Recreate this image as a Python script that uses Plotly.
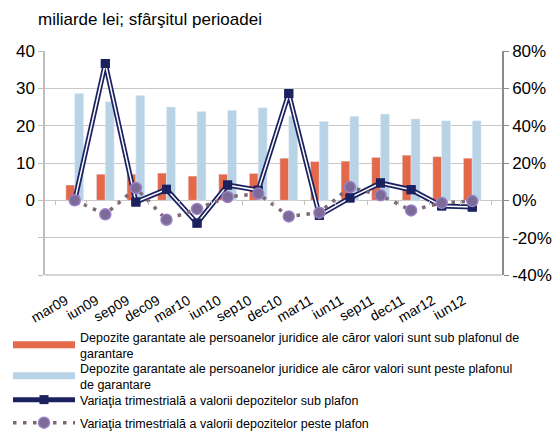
import plotly.graph_objects as go

categories = ["mar09", "iun09", "sep09", "dec09", "mar10", "iun10", "sep10",
              "dec10", "mar11", "iun11", "sep11", "dec11", "mar12", "iun12"]
sub_plafon = [4.1, 7.0, 7.0, 7.3, 6.5, 7.0, 7.2, 11.3, 10.4, 10.5, 11.5, 12.1, 11.7, 11.3]
peste_plafon = [28.6, 26.4, 28.1, 25.0, 23.8, 24.1, 24.8, 22.6, 21.1, 22.5, 23.1, 21.8, 21.3, 21.3]
var_sub = [0.0, 73.3, -0.9, 5.9, -12.2, 8.2, 5.4, 57.2, -8.0, 1.3, 9.3, 5.7, -3.0, -3.6]
var_peste = [0.0, -7.5, 6.6, -10.4, -4.6, 1.8, 3.6, -8.6, -6.6, 7.1, 2.7, -5.4, -1.4, -0.4]

left_ticks = [-20, -10, 0, 10, 20, 30, 40]
left_ticktext = ["", "", "0", "10", "20", "30", "40"]
right_ticks = [-40, -20, 0, 20, 40, 60, 80]
right_ticktext = ["-40%", "-20%", "0%", "20%", "40%", "60%", "80%"]

names = [
    "Depozite garantate ale persoanelor juridice ale căror valori sunt sub plafonul de<br>garantare",
    "Depozite garantate ale persoanelor juridice ale căror valori sunt peste plafonul<br>de garantare",
    "Variaţia trimestrială a valorii depozitelor sub plafon",
    "Variaţia trimestrială a valorii depozitelor peste plafon",
]

ORANGE = "#E4694A"
BLUE = "#B7D3E5"
NAVY = "#1C2160"
PURPLE = "#7C6A97"
DOTC = "#7E6873"

# the page body adds an 8px margin; the figure is sized/positioned to compensate
W, H = 552, 424
L, T, R, B = 37, 43, 58, 157
PLOT_H = H - T - B

fig = go.Figure()
fig.add_trace(go.Bar(x=categories, y=sub_plafon, name=names[0], marker_color=ORANGE,
                     yaxis="y", showlegend=False))
fig.add_trace(go.Bar(x=categories, y=peste_plafon, name=names[1], marker_color=BLUE,
                     yaxis="y", showlegend=False))
# invisible trace that carries the tick marks on the zero line
fig.add_trace(go.Scatter(x=categories, y=sub_plafon, xaxis="x2", yaxis="y",
                         mode="markers", marker=dict(size=1, opacity=0),
                         showlegend=False, hoverinfo="skip"))
# legend-only entries drawn as wide flat bars
fig.add_trace(go.Scatter(x=[None], y=[None], name=names[0], mode="lines",
                         line=dict(color=ORANGE, width=7), legend="legend"))
fig.add_trace(go.Scatter(x=[None], y=[None], name=names[1], mode="lines",
                         line=dict(color=BLUE, width=7), legend="legend2"))
# double line: navy thick + white thin center
fig.add_trace(go.Scatter(x=categories, y=var_sub, name=names[2], yaxis="y2",
                         mode="lines+markers", line=dict(color=NAVY, width=5),
                         marker=dict(symbol="square", size=9, color=NAVY),
                         legend="legend3"))
fig.add_trace(go.Scatter(x=categories, y=var_sub, yaxis="y2", showlegend=False,
                         mode="lines", line=dict(color="white", width=1.5), hoverinfo="skip"))
fig.add_trace(go.Scatter(x=categories, y=var_sub, yaxis="y2", showlegend=False,
                         mode="markers", marker=dict(symbol="square", size=9, color=NAVY),
                         hoverinfo="skip"))
fig.add_trace(go.Scatter(x=categories, y=var_peste, name=names[3], yaxis="y2",
                         mode="lines+markers",
                         line=dict(color=DOTC, width=3.5, dash="3.5px,6.5px"),
                         marker=dict(symbol="circle", size=11, color=PURPLE,
                                     line=dict(color="#9A80C6", width=1.5)),
                         legend="legend4"))

def px_to_y(p_screen):
    # screen pixel -> paper fraction (screen = figure + 8)
    return (H - B - (p_screen - 8)) / PLOT_H

plot_w = W - L - R
leg_common = dict(x=-(L - 0) / plot_w, xanchor="left", yanchor="middle", orientation="v",
                  font=dict(size=12.5), itemwidth=62, bgcolor="rgba(0,0,0,0)")

fig.update_layout(
    width=W, height=H,
    margin=dict(l=L, r=R, t=T, b=B, autoexpand=False),
    plot_bgcolor="white", paper_bgcolor="white",
    font=dict(family="Liberation Sans, Arial, sans-serif", color="#000000"),
    barmode="group", bargap=0.42, bargroupgap=0,
    title=dict(text="miliarde lei; sfârşitul perioadei", xref="container", x=30/W,
               xanchor="left", yref="container", y=1 - 5/H, yanchor="top",
               font=dict(size=17)),
    xaxis=dict(type="category", tickangle=-30, tickfont=dict(size=14),
               ticklabelstandoff=14, ticklabelshift=-9,
               showline=False, showgrid=False, ticks="", anchor="y", automargin=False),
    xaxis2=dict(type="category", overlaying="x", anchor="free", position=1/3,
                showticklabels=False, showgrid=False, showline=False,
                ticks="outside", tickson="boundaries", ticklen=4,
                tickcolor="#BEBEBE", tickwidth=1.3, automargin=False),
    yaxis=dict(range=[-20, 40], tickvals=left_ticks, ticktext=left_ticktext,
               showgrid=True, gridcolor="#C8C8C8", gridwidth=1.3,
               showline=True, linecolor="#BEBEBE", linewidth=1.5,
               ticks="outside", ticklen=5, tickcolor="#BEBEBE",
               tickfont=dict(size=17), zeroline=False, automargin=False),
    yaxis2=dict(range=[-40, 80], tickvals=right_ticks, ticktext=right_ticktext,
                overlaying="y", side="right", showgrid=False,
                showline=True, linecolor="#8C8C8C", linewidth=1.5,
                ticks="outside", ticklen=5, tickcolor="#8C8C8C",
                tickfont=dict(size=17), zeroline=False, automargin=False),
    legend=dict(y=px_to_y(345), **leg_common),
    legend2=dict(y=px_to_y(376), **leg_common),
    legend3=dict(y=px_to_y(400), **leg_common),
    legend4=dict(y=px_to_y(423), **leg_common),
    showlegend=True,
)
# bottom axis line
fig.add_shape(type="line", xref="paper", yref="paper", x0=0, x1=1, y0=0, y1=0,
              line=dict(color="#C8C8C8", width=1.5))

fig.write_html("out.html")
